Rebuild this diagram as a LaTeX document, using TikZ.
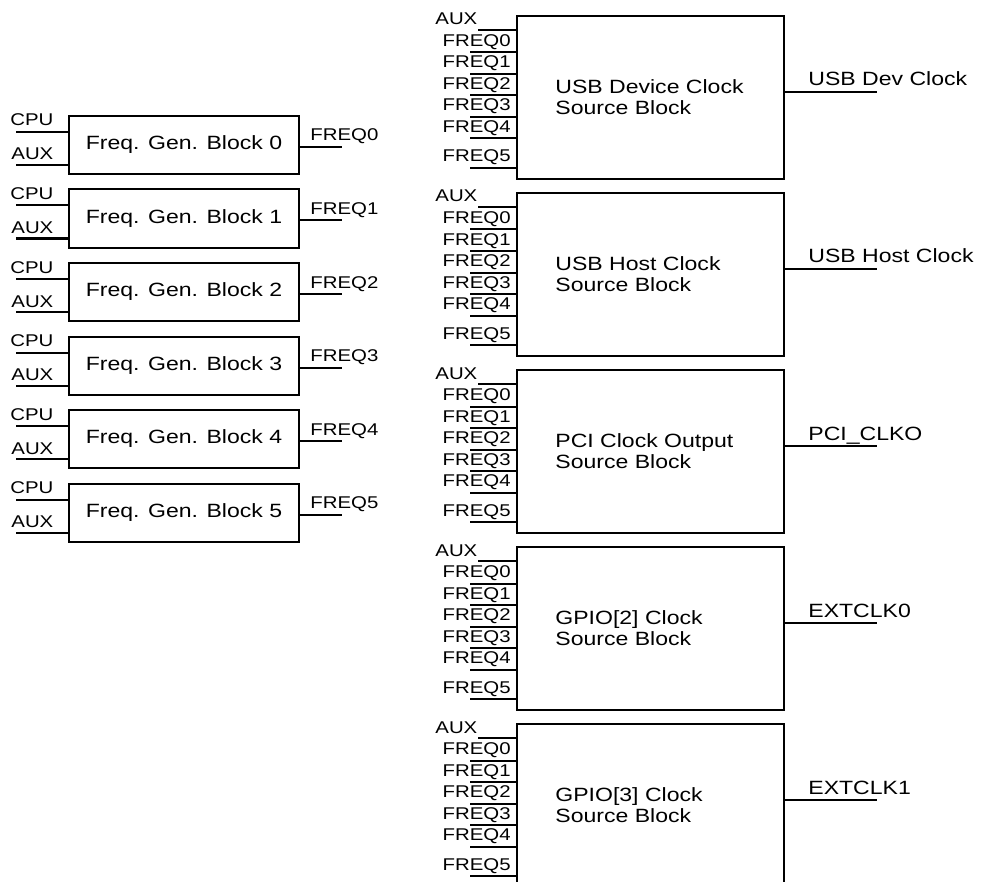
\documentclass[tikz,border=0pt]{standalone}
\usepackage{fontspec}
\setmainfont{Liberation Sans}[FakeStretch=1.2]
\usetikzlibrary{positioning, calc}
\tikzset{
  genblock/.style={draw, line width=1pt, minimum width=115pt, minimum height=29pt, inner sep=0pt, anchor=north west, font=\fontsize{9.6}{11}\selectfont},
  srcblock/.style={draw, line width=1pt, minimum width=133.5pt, minimum height=81.5pt, inner sep=0pt, anchor=north west},
  boxtxt/.style={inner sep=0pt, align=left, font=\fontsize{9.6}{10.4}\selectfont},
  wire/.style={line width=1pt},
  pinlbl/.style={inner sep=0pt, font=\fontsize{8.5}{10}\selectfont},
  outlbl/.style={inner sep=0pt, anchor=base west, font=\fontsize{9.6}{11}\selectfont}
}
\begin{document}
\begin{tikzpicture}[x=0.5pt, y=-0.5pt]
\useasboundingbox (0,0) rectangle (984,882);
\clip (0,0) rectangle (984,882);

% frequency generator blocks
\foreach \i in {0,...,5} {
  \pgfmathsetmacro{\fgy}{115+73.5*\i}
  \node[genblock] (fg\i) at (68,\fgy) {Freq. Gen. Block \i};
  \coordinate (cpu\i) at (16,\fgy+17);
  \coordinate (aux\i) at (16,\fgy+50);
  \coordinate (fq\i) at (342,\fgy+32);
  \draw[wire] (cpu\i) -- (cpu\i -| fg\i.west);
  \draw[wire] (aux\i) -- (aux\i -| fg\i.west);
  \draw[wire] (fq\i -| fg\i.east) -- (fq\i);
  \node[pinlbl, anchor=base west] (cpul\i) at (10,\fgy+11) {CPU};
  \node[pinlbl, anchor=base west] (auxl\i) at (11,\fgy+45) {AUX};
  \node[pinlbl, anchor=base west] (fql\i) at (310,\fgy+26) {FREQ\i};
}

% clock source blocks
\foreach \j/\txt/\out in {0/{USB Device Clock\\Source Block}/{USB Dev Clock},
    1/{USB Host Clock\\Source Block}/{USB Host Clock},
    2/{PCI Clock Output\\Source Block}/{PCI\_CLKO},
    3/{GPIO[2] Clock\\Source Block}/{EXTCLK0},
    4/{GPIO[3] Clock\\Source Block}/{EXTCLK1}} {
  \pgfmathsetmacro{\sy}{15+177*\j}
  \node[srcblock] (src\j) at (516,\sy) {};
  \node[boxtxt, right=19.5pt of src\j.west] (txt\j) {\txt};
  % AUX and FREQ inputs
  \coordinate (sa\j) at (478,\sy+15);
  \draw[wire] (sa\j) -- (sa\j -| src\j.west);
  \node[pinlbl, anchor=base west] (sal\j) at (435,\sy+10) {AUX};
  \foreach \k/\dy in {0/37.5,1/59,2/80.5,3/102,4/123.5,5/153} {
    \coordinate (sf\j\k) at (470,\sy+\dy);
    \draw[wire] (sf\j\k) -- (sf\j\k -| src\j.west);
    \node[pinlbl, anchor=base east] (sfl\j\k) at (511,\sy+\dy-6) {FREQ\k};
  }
  % clock output
  \coordinate (out\j) at (877,\sy+77);
  \draw[wire] (out\j -| src\j.east) -- (out\j);
  \node[outlbl] (outl\j) at (808,\sy+71) {\out};
}
\end{tikzpicture}
\end{document}
